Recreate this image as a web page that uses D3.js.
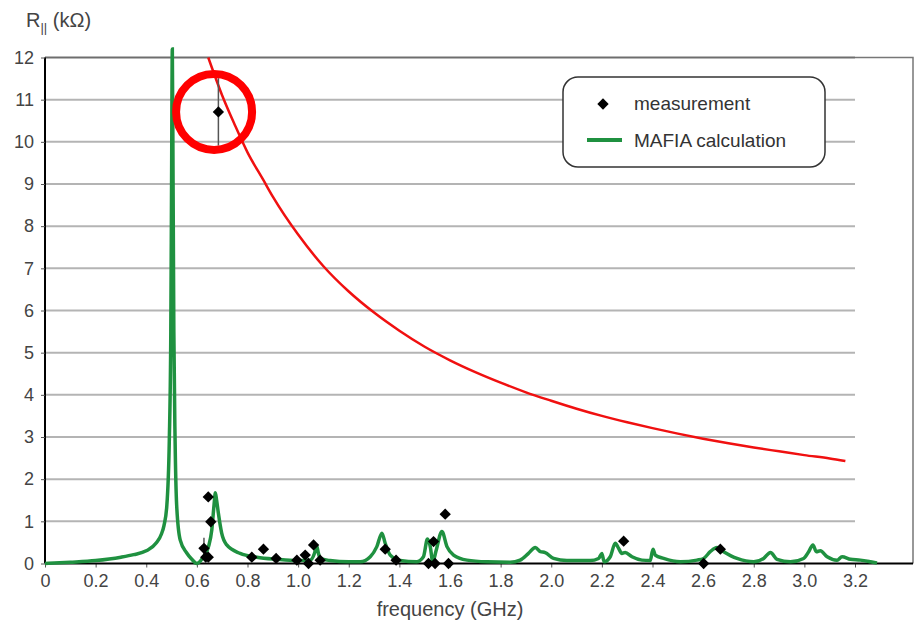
<!DOCTYPE html>
<html>
<head>
<meta charset="utf-8">
<script src="https://cdn.jsdelivr.net/npm/d3@7"></script>
<style>
  body { margin: 0; background: #fff; }
  text { font-family: "Liberation Sans", Arial, sans-serif; }
</style>
</head>
<body>
<svg class="chart"></svg>
<script>
// tick labels
var xTicks = [0, 0.2, 0.4, 0.6, 0.8, 1.0, 1.2, 1.4, 1.6, 1.8, 2.0, 2.2, 2.4, 2.6, 2.8, 3.0, 3.2];
var yTicks = [0, 1, 2, 3, 4, 5, 6, 7, 8, 9, 10, 11, 12];

// MAFIA calculation (GHz, kOhm)
var mafiaFreq = [0, 0.1, 0.2, 0.3, 0.35, 0.4, 0.44, 0.46, 0.47, 0.481, 0.491, 0.497, 0.5, 0.503, 0.506, 0.509, 0.514, 0.52, 0.534, 0.56,
  0.58, 0.6, 0.626, 0.646, 0.659, 0.668, 0.673, 0.678, 0.685, 0.698, 0.718, 0.771, 0.837, 0.916, 0.995, 1.047, 1.065, 1.073, 1.08, 1.087,
  1.126, 1.2, 1.245, 1.285, 1.311, 1.331, 1.344, 1.364, 1.403, 1.468, 1.495, 1.511, 1.522, 1.532, 1.545, 1.568, 1.588, 1.614, 1.667, 1.746,
  1.838, 1.877, 1.91, 1.937, 1.957, 1.976, 2.009, 2.062, 2.154, 2.187, 2.2, 2.209, 2.233, 2.253, 2.266, 2.279, 2.292, 2.319, 2.358, 2.391,
  2.402, 2.411, 2.444, 2.51, 2.576, 2.602, 2.628, 2.655, 2.681, 2.734, 2.8, 2.839, 2.866, 2.892, 2.945, 2.997, 3.017, 3.034, 3.047, 3.063,
  3.09, 3.129, 3.149, 3.182, 3.221, 3.261, 3.287];
var mafiaR = [0, 0.03, 0.07, 0.15, 0.21, 0.3, 0.49, 0.7, 0.9, 1.35, 2.9, 5.5, 9, 12.2, 9, 5.5, 2.9, 1.4, 0.56, 0.25,
  0.1, 0, 0.16, 0.4, 0.8, 1.4, 1.68, 1.5, 1.19, 0.72, 0.44, 0.24, 0.15, 0.1, 0.07, 0.08, 0.25, 0.42, 0.25, 0.12,
  0.07, 0.04, 0.04, 0.16, 0.4, 0.72, 0.48, 0.2, 0.07, 0.04, 0.16, 0.58, 0.4, 0.04, 0.3, 0.76, 0.4, 0.2, 0.08, 0.04,
  0.03, 0.08, 0.24, 0.38, 0.28, 0.26, 0.12, 0.07, 0.07, 0.12, 0.24, 0.04, 0.16, 0.48, 0.36, 0.24, 0.26, 0.16, 0.08, 0.07,
  0.34, 0.2, 0.12, 0.04, 0.08, 0.12, 0.28, 0.38, 0.28, 0.12, 0.04, 0.12, 0.26, 0.1, 0.04, 0.12, 0.28, 0.44, 0.28, 0.3,
  0.16, 0.08, 0.16, 0.1, 0.08, 0.04, 0.01];

// red limit curve
var limitFreq = [0.645, 0.7, 0.75, 0.8, 0.863, 0.9, 1.0, 1.1, 1.2, 1.3, 1.4, 1.5, 1.6, 1.7, 1.8, 1.9, 2.0, 2.1, 2.2, 2.3, 2.4, 2.5, 2.6, 2.7, 2.8, 2.9, 3.0, 3.1, 3.162];
var limitR = [12.0, 11.1, 10.4, 9.75, 9.09, 8.7, 7.8, 7.05, 6.45, 5.95, 5.52, 5.14, 4.82, 4.54, 4.29, 4.06, 3.86, 3.67, 3.5, 3.35, 3.21, 3.08, 2.96, 2.85, 2.75, 2.66, 2.57, 2.49, 2.43];

// measurements
var measFreq = [0.685, 0.645, 0.655, 0.628, 0.635, 0.645, 0.817, 0.863, 0.913, 0.995, 1.028, 1.041, 1.061, 1.087, 1.344, 1.387, 1.515, 1.535, 1.541, 1.581, 1.594, 2.286, 2.602, 2.668];
var measR = [10.71, 1.58, 0.99, 0.36, 0.15, 0.15, 0.15, 0.34, 0.12, 0.08, 0.2, 0.0, 0.44, 0.08, 0.34, 0.08, 0, 0.52, 0, 1.17, 0, 0.53, 0, 0.34];
var measErr = [0.8, 0, 0, 0.25, 0, 0, 0, 0, 0, 0, 0, 0, 0, 0, 0, 0, 0, 0, 0, 0, 0, 0, 0, 0];

var width = 917, height = 627;
var pLeft = 45, pRight = 855, pTop = 57.5, pBottom = 563.5, frameRight = 913;

var chart = d3.select(".chart")
    .attr("width", width)
    .attr("height", height);

var x = d3.scaleLinear().domain([0, 3.2]).range([pLeft, pRight]);
var y = d3.scaleLinear().domain([0, 12]).range([pBottom, pTop]);

// grid lines
chart.append("g").selectAll("line")
    .data(yTicks.filter(function(d){ return d > 0; }))
  .enter().append("line")
    .attr("x1", pLeft).attr("x2", pRight)
    .attr("y1", function(d){ return y(d); })
    .attr("y2", function(d){ return y(d); })
    .attr("stroke", function(d){ return d == 12 ? "#6e6e6e" : "#b4b4b4"; })
    .attr("stroke-width", 2);

// outer frame to the right
chart.append("path")
    .attr("d", "M" + pRight + "," + pTop + "H" + frameRight + "V" + pBottom)
    .attr("fill", "none")
    .attr("stroke", "#777")
    .attr("stroke-width", 1.5);

// axes
var xAxis = chart.append("g")
    .attr("transform", "translate(0," + pBottom + ")")
    .call(d3.axisBottom(x).tickValues(xTicks).tickSize(4).tickPadding(7)
      .tickFormat(function(d){ return d == 0 ? "0" : d3.format(".1f")(d); }));
xAxis.select(".domain").remove();
xAxis.selectAll("line").attr("stroke", "#555");
xAxis.append("line")
    .attr("x1", pLeft).attr("x2", frameRight)
    .attr("stroke", "#000").attr("stroke-width", 2);

var yAxis = chart.append("g")
    .attr("transform", "translate(" + pLeft + ",0)")
    .call(d3.axisLeft(y).tickValues(yTicks).tickSize(4).tickPadding(7));
yAxis.select(".domain").attr("stroke", "#000").attr("stroke-width", 2).attr("d", "M0," + pBottom + "V" + pTop);
yAxis.selectAll("line").attr("stroke", "#555");

chart.selectAll(".tick text")
    .attr("fill", "#444")
    .style("font-size", "18px");

// axis titles
chart.append("text")
    .attr("x", (pLeft + pRight) / 2)
    .attr("y", 616)
    .attr("text-anchor", "middle")
    .attr("fill", "#444")
    .style("font-size", "20px")
    .text("frequency (GHz)");

var yt = chart.append("text")
    .attr("x", 26)
    .attr("y", 27)
    .attr("fill", "#444")
    .style("font-size", "20px");
yt.append("tspan").text("R");
yt.append("tspan").attr("dy", 5).style("font-size", "13px").text("||");
yt.append("tspan").attr("dy", -5).text(" (kΩ)");

// curves
var limitData = limitFreq.map(function(f, i){ return {f: f, r: limitR[i]}; });
var mafiaData = mafiaFreq.map(function(f, i){ return {f: f, r: mafiaR[i]}; });

var line = d3.line()
    .curve(d3.curveMonotoneX)
    .x(function(d){ return x(d.f); })
    .y(function(d){ return y(d.r); });

chart.append("path")
    .datum(limitData)
    .attr("d", line)
    .attr("fill", "none")
    .attr("stroke", "#f01010")
    .attr("stroke-width", 2.5);

chart.append("path")
    .datum(mafiaData)
    .attr("d", line)
    .attr("fill", "none")
    .attr("stroke", "#1f9140")
    .attr("stroke-width", 3.5);

// measurement points + error bars
var meas = measFreq.map(function(f, i){ return {f: f, r: measR[i], e: measErr[i]}; });

chart.append("g").selectAll("line")
    .data(meas.filter(function(d){ return d.e > 0; }))
  .enter().append("line")
    .attr("x1", function(d){ return x(d.f); })
    .attr("x2", function(d){ return x(d.f); })
    .attr("y1", function(d){ return y(d.r - d.e); })
    .attr("y2", function(d){ return y(d.r + d.e); })
    .attr("stroke", "#555")
    .attr("stroke-width", 1.5);

var diamond = d3.symbol().type(d3.symbolSquare).size(64);

chart.append("g").selectAll("path")
    .data(meas)
  .enter().append("path")
    .attr("d", diamond)
    .attr("transform", function(d){ return "translate(" + x(d.f) + "," + y(d.r) + ") rotate(45)"; })
    .attr("fill", "#000");

// red highlight circle around the 0.68 GHz point
chart.append("circle")
    .attr("cx", x(0.668))
    .attr("cy", y(10.71))
    .attr("r", 38)
    .attr("fill", "none")
    .attr("stroke", "#f00")
    .attr("stroke-width", 8);

// legend
var lg = chart.append("g").attr("transform", "translate(563,77)");
lg.append("rect")
    .attr("width", 262).attr("height", 90)
    .attr("rx", 15).attr("ry", 15)
    .attr("fill", "#fff")
    .attr("stroke", "#333")
    .attr("stroke-width", 1.5);
lg.append("path")
    .attr("d", diamond)
    .attr("transform", "translate(40,27) rotate(45)")
    .attr("fill", "#000");
lg.append("text")
    .attr("x", 71).attr("y", 33)
    .attr("fill", "#333")
    .style("font-size", "19px")
    .text("measurement");
lg.append("line")
    .attr("x1", 24).attr("x2", 59)
    .attr("y1", 63).attr("y2", 63)
    .attr("stroke", "#1f9140")
    .attr("stroke-width", 4);
lg.append("text")
    .attr("x", 71).attr("y", 70)
    .attr("fill", "#333")
    .style("font-size", "19px")
    .text("MAFIA calculation");
</script>
</body>
</html>
